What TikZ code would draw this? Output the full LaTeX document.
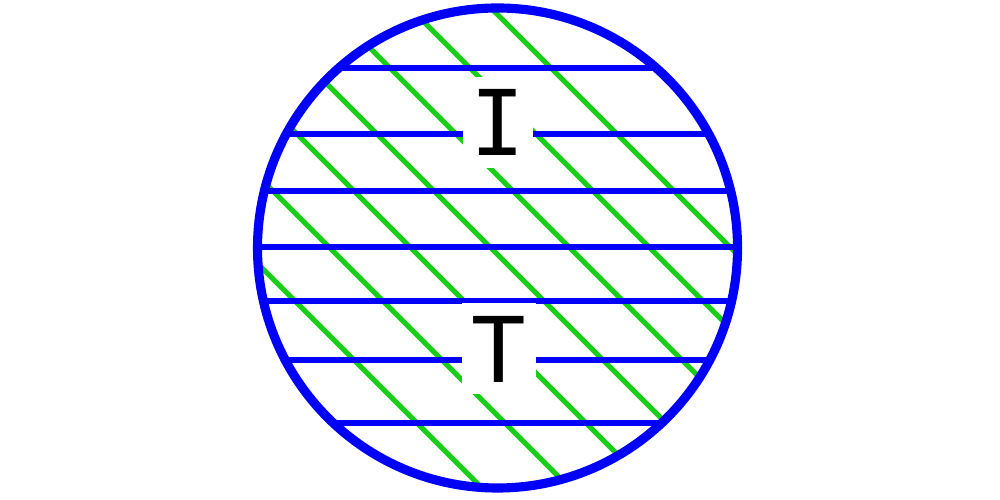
\documentclass[tikz,border=0pt]{standalone}
\usepackage{fontspec}
\newfontfamily\labelfont{DejaVu Sans Mono}
\usetikzlibrary{positioning}
\definecolor{rimblue}{RGB}{0,0,250}
\definecolor{hatchgreen}{RGB}{25,205,25}

\begin{document}
\begin{tikzpicture}[x=1cm,y=1cm,
  rim/.style={draw=rimblue,line width=2.6pt},
  hline/.style={draw=rimblue,line width=1.5pt},
  dline/.style={draw=hatchgreen,line width=1.45pt},
  letter/.style={fill=white,inner sep=0pt,minimum width=0.7cm,minimum height=0.91cm,
    font=\labelfont\fontsize{25.8}{26}\selectfont}]

  % -- CANVAS --------------------------------------------------------
  \fill[white] (0,0) rectangle (10,5);
  \useasboundingbox (0,0) rectangle (10,5);

  \coordinate (ctr) at (4.975,2.52);
  \def\R{2.40} % radius of the rim

  % -- HATCHING (clipped to the disc) --------------------------------
  \begin{scope}
    \clip (ctr) circle (\R);
    % green diagonals, x+y = const
    \foreach \d in {4.94,5.82,6.63,7.43,8.22,9.02,9.83}
      \draw[dline] (\d,0) -- (\d-5,5);
    % blue horizontals
    \foreach \h in {1.80,1.14,0.57,0.01,-0.53,-1.12,-1.75}
      \draw[hline] (0,2.52+\h) -- (10,2.52+\h);
  \end{scope}

  % -- LABELS --------------------------------------------------------
  \node[letter] (labI) at (4.975,3.775) {I};
  \node[letter,minimum width=0.74cm] (labT) at (4.99,1.51) {T};

  % -- RIM -----------------------------------------------------------
  \draw[rim] (ctr) circle (\R);

\end{tikzpicture}
\end{document}
